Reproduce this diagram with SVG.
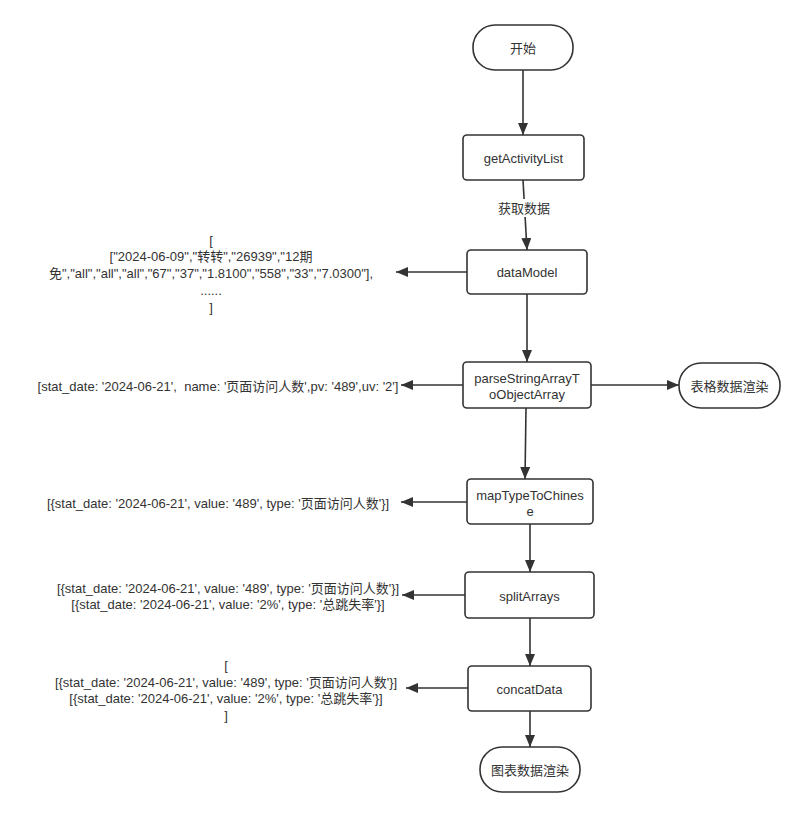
<svg xmlns="http://www.w3.org/2000/svg" width="804" height="817" viewBox="0 0 804 817">
<defs>
<style>
.node rect{fill:#fff;stroke:#333;stroke-width:1.6}
text{font-family:"Liberation Sans","Noto Sans CJK SC",Arial,sans-serif;font-size:13px;fill:#333;text-anchor:middle;dominant-baseline:central;white-space:pre}
.conn line{stroke:#333;stroke-width:1.6;fill:none}
</style>
<marker id="arr" markerUnits="userSpaceOnUse" markerWidth="12" markerHeight="10" refX="12" refY="5" orient="auto">
<path d="M0,0 L12,5 L0,10 z" fill="#333"/>
</marker>
</defs>
<rect width="804" height="817" fill="#fff"/>
<g id="connectors" class="conn">
<line x1="523" y1="70" x2="523" y2="135" marker-end="url(#arr)"/>
<line x1="523" y1="180" x2="527" y2="250" marker-end="url(#arr)"/>
<line x1="527" y1="294" x2="527" y2="362" marker-end="url(#arr)"/>
<line x1="526" y1="408" x2="525" y2="479" marker-end="url(#arr)"/>
<line x1="530" y1="524" x2="530" y2="572" marker-end="url(#arr)"/>
<line x1="530" y1="618" x2="530" y2="666" marker-end="url(#arr)"/>
<line x1="530" y1="711" x2="530" y2="747" marker-end="url(#arr)"/>
<line x1="467" y1="272" x2="396" y2="272" marker-end="url(#arr)"/>
<line x1="463" y1="385" x2="401" y2="385" marker-end="url(#arr)"/>
<line x1="591" y1="385" x2="679" y2="385" marker-end="url(#arr)"/>
<line x1="467" y1="502" x2="401" y2="502" marker-end="url(#arr)"/>
<line x1="465" y1="595" x2="402" y2="595" marker-end="url(#arr)"/>
<line x1="468" y1="688" x2="406" y2="688" marker-end="url(#arr)"/>
<rect x="497" y="199" width="54" height="18" fill="#fff"/>
<text x="524" y="208">获取数据</text>
</g>
<g id="start" class="node"><rect x="473" y="25" width="100" height="45" rx="22" ry="22"/><text x="523" y="48">开始</text></g>
<g id="getActivityList" class="node"><rect x="463" y="135" width="121" height="45" rx="4"/><text x="523.5" y="158">getActivityList</text></g>
<g id="dataModel" class="node"><rect x="467" y="250" width="120" height="44" rx="4"/><text x="527" y="272">dataModel</text></g>
<g id="parse" class="node"><rect x="463" y="362" width="128" height="46" rx="4"/><text x="527" y="378">parseStringArrayT</text><text x="527" y="394">oObjectArray</text></g>
<g id="tableRender" class="node"><rect x="679" y="363" width="101" height="45" rx="22" ry="22"/><text x="729.5" y="386">表格数据渲染</text></g>
<g id="mapType" class="node"><rect x="467" y="479" width="126" height="45" rx="4"/><text x="530" y="495">mapTypeToChines</text><text x="530" y="511">e</text></g>
<g id="splitArrays" class="node"><rect x="465" y="572" width="129" height="46" rx="4"/><text x="529.5" y="596">splitArrays</text></g>
<g id="concatData" class="node"><rect x="468" y="666" width="123" height="45" rx="4"/><text x="529.5" y="689">concatData</text></g>
<g id="chartRender" class="node"><rect x="480" y="747" width="100" height="45" rx="22" ry="22"/><text x="530" y="770">图表数据渲染</text></g>
<g id="note-dataModel">
<text x="211" y="240">[</text>
<text x="211" y="256">["2024-06-09","转转","26939","12期</text>
<text x="211" y="273">免","all","all","all","67","37","1.8100","558","33","7.0300"],</text>
<text x="211" y="290">......</text>
<text x="211" y="307">]</text>
</g>
<g id="note-parse"><text x="218" y="386">[stat_date: '2024-06-21',  name: '页面访问人数',pv: '489',uv: '2']</text></g>
<g id="note-map"><text x="218" y="503">[{stat_date: '2024-06-21', value: '489', type: '页面访问人数'}]</text></g>
<g id="note-split">
<text x="228" y="588">[{stat_date: '2024-06-21', value: '489', type: '页面访问人数'}]</text>
<text x="228" y="604">[{stat_date: '2024-06-21', value: '2%', type: '总跳失率'}]</text>
</g>
<g id="note-concat">
<text x="226" y="665">[</text>
<text x="226" y="682">[{stat_date: '2024-06-21', value: '489', type: '页面访问人数'}]</text>
<text x="226" y="698">[{stat_date: '2024-06-21', value: '2%', type: '总跳失率'}]</text>
<text x="226" y="715">]</text>
</g>
</svg>
